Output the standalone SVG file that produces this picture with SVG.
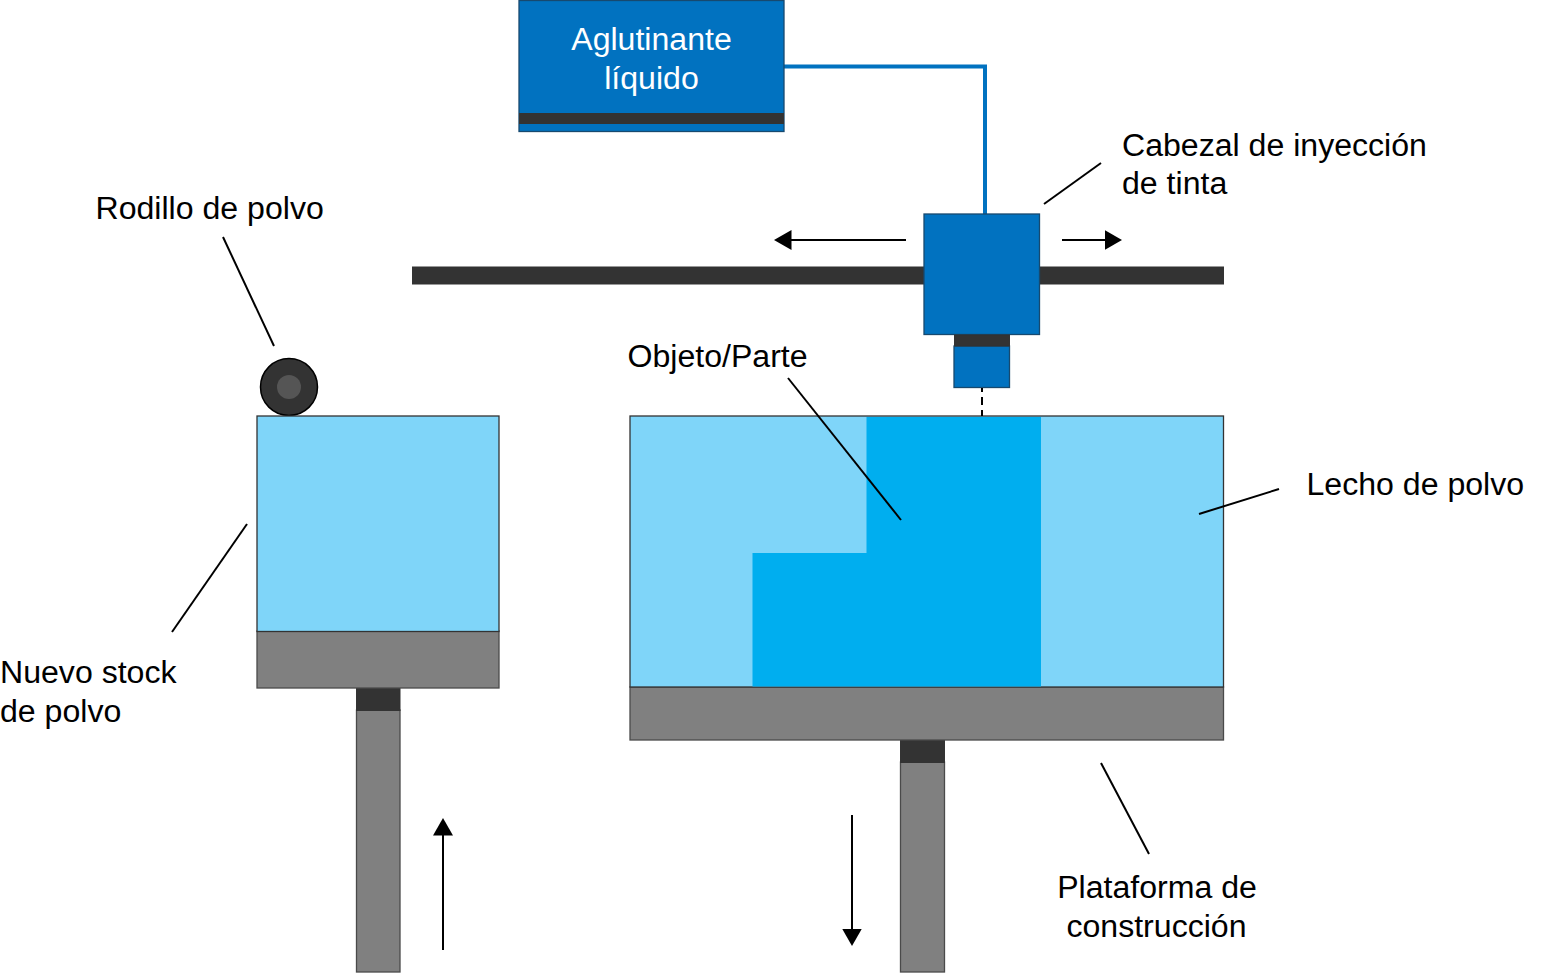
<svg xmlns="http://www.w3.org/2000/svg" width="1564" height="973" viewBox="0 0 1564 973">
<style>
.t{font-family:"Liberation Sans",Arial,sans-serif;font-size:32.1px;fill:#000}
.w{fill:#fff;text-anchor:middle}
.m{text-anchor:middle}
.l{stroke:#000;stroke-width:2;fill:none}
.b{fill:#0172c0;stroke:#17496f;stroke-width:1.3}
.d{fill:#333;stroke:#333;stroke-width:1}
.g{fill:#808080;stroke:#4a4a4a;stroke-width:1.3}
.p{fill:#7fd5f9;stroke:#333;stroke-width:1.3}
</style>
<defs>
<marker id="ah" markerUnits="userSpaceOnUse" markerWidth="18" markerHeight="20" refX="0.500" refY="10" orient="auto"><path d="M0 0L17.500 10L0 20Z" fill="#000"/></marker>
</defs>
<g id="rail"><rect class="d" x="412.500" y="267" width="811" height="17"/></g>
<g id="feed-line"><path d="M784 66.500H985V214" fill="none" stroke="#0172c0" stroke-width="4"/></g>
<g id="binder"><rect class="b" x="519" y="0.500" width="265" height="131"/><rect x="519" y="113" width="265" height="11" fill="#333"/>
<text class="t w" x="651.500" y="50">Aglutinante</text><text class="t w" x="651.500" y="89">líquido</text></g>
<g id="print-head"><rect class="b" x="924" y="214" width="115.500" height="120.500"/><rect class="b" x="954" y="346" width="55.500" height="41.500"/><rect class="d" x="954.500" y="335" width="55" height="11"/></g>
<g id="roller"><circle cx="289" cy="387" r="28.500" fill="#333" stroke="#000" stroke-width="1.500"/><circle cx="289" cy="387" r="12" fill="#555"/></g>
<g id="stock"><rect class="g" x="356.500" y="710" width="43.500" height="262"/><rect class="d" x="356.500" y="688" width="43.500" height="22.500"/><rect class="g" x="257" y="631" width="242" height="57"/><rect class="p" x="257" y="416" width="242" height="215.500"/></g>
<g id="bed"><rect class="g" x="900.500" y="762" width="44" height="210"/><rect class="d" x="900.500" y="740" width="44" height="22.500"/><rect class="g" x="630" y="687" width="593.500" height="53"/><rect class="p" x="630" y="416" width="593.500" height="271"/>
<path d="M866.500 417H1041V686.500H752.500V553H866.500Z" fill="#00aeef"/></g>
<g id="connectors">
<path class="l" d="M906 240H791" marker-end="url(#ah)"/>
<path class="l" d="M1062 240H1105" marker-end="url(#ah)"/>
<path class="l" d="M443 950V835" marker-end="url(#ah)"/>
<path class="l" d="M852 815V929" marker-end="url(#ah)"/>
<path class="l" d="M982 388V416" stroke-dasharray="4 5 8 5 6"/>
<path class="l" d="M1101 163L1044 204"/>
<path class="l" d="M223 237L274 346"/>
<path class="l" d="M788 378L901 520"/>
<path class="l" d="M1279 489L1199 514"/>
<path class="l" d="M247 524L172 632"/>
<path class="l" d="M1101 763L1149 854"/>
</g>
<g id="labels">
<text class="t" x="1122" y="155.500">Cabezal de inyección</text><text class="t" x="1122" y="194">de tinta</text>
<text class="t" x="95.500" y="219">Rodillo de polvo</text>
<text class="t" x="627.500" y="366.500">Objeto/Parte</text>
<text class="t" x="1306.500" y="494.500">Lecho de polvo</text>
<text class="t" x="0" y="683">Nuevo stock</text><text class="t" x="0" y="721.500">de polvo</text>
<text class="t m" x="1157" y="898">Plataforma de</text><text class="t m" x="1156.500" y="936.500">construcción</text>
</g>
</svg>
